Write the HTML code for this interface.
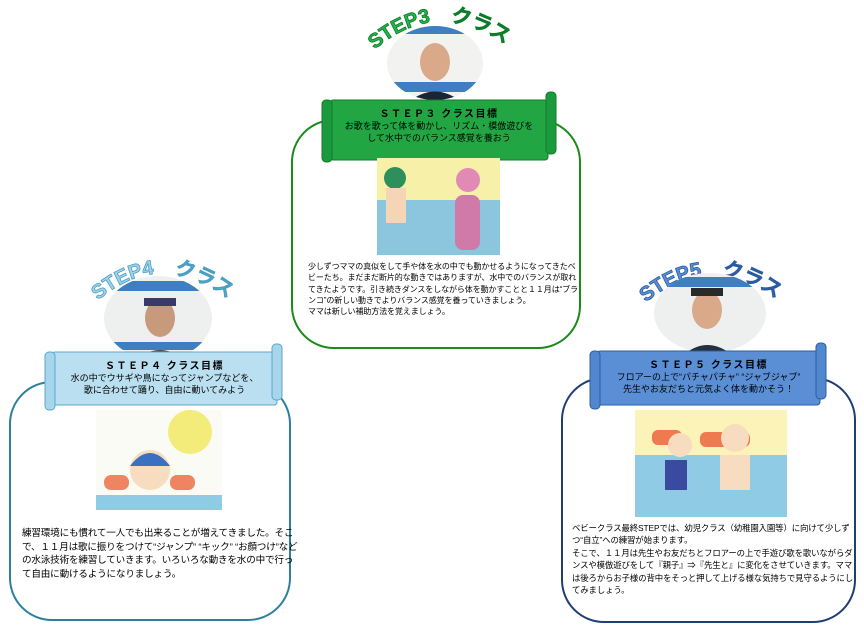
<!DOCTYPE html>
<html><head><meta charset="utf-8"><style>
html,body{margin:0;padding:0;background:#fff;width:864px;height:635px;overflow:hidden}
body{position:relative;font-family:"Liberation Sans","Noto Sans CJK JP",sans-serif}
.t{position:absolute;font-size:8.6px;line-height:12.2px;color:#000;letter-spacing:-0.1px}
.b{position:absolute;text-align:center;font-size:9px;line-height:11.5px;color:#000}
.b b{font-size:10px;letter-spacing:1.5px;display:block;line-height:13px}
svg{position:absolute;left:0;top:0}
</style></head><body>
<svg width="864" height="635" viewBox="0 0 864 635">
<defs>
<path id="a3" d="M372,52 Q437,-6 508,46"/>
<path id="a4" d="M96,302 Q160,246 230,300"/>
<path id="a5" d="M644,304 Q710,248 778,300"/>
<clipPath id="c3"><ellipse cx="435" cy="63" rx="48" ry="37"/></clipPath>
<clipPath id="c4"><ellipse cx="158" cy="318" rx="54" ry="42"/></clipPath>
<clipPath id="c5"><ellipse cx="710" cy="313" rx="56" ry="40"/></clipPath>
</defs>
<rect x="292" y="120" width="288" height="228" rx="42" fill="#fff" stroke="#1a8a1a" stroke-width="2"/>
<rect x="10" y="382" width="280" height="238" rx="42" fill="#fff" stroke="#2e7f9e" stroke-width="2"/>
<rect x="562" y="378" width="293" height="244" rx="42" fill="#fff" stroke="#1f3f73" stroke-width="2"/>
<text font-family="Liberation Sans" font-weight="bold" font-size="20" fill="#22b34a" stroke="#0c7a28" stroke-width="0.8"><textPath href="#a3" startOffset="50%" text-anchor="middle">STEP3　クラス</textPath></text>
<text font-family="Liberation Sans" font-weight="bold" font-size="20" fill="#9fd3ea" stroke="#4a9ec2" stroke-width="0.8"><textPath href="#a4" startOffset="50%" text-anchor="middle">STEP4　クラス</textPath></text>
<text font-family="Liberation Sans" font-weight="bold" font-size="20" fill="#5b8fd6" stroke="#2a5aa0" stroke-width="0.8"><textPath href="#a5" startOffset="50%" text-anchor="middle">STEP5　クラス</textPath></text>
<g clip-path="url(#c3)"><rect x="380" y="20" width="110" height="90" fill="#f2f2f0"/><rect x="380" y="24" width="110" height="10" fill="#3d7fc0"/><rect x="380" y="82" width="110" height="10" fill="#3d7fc0"/><ellipse cx="435" cy="62" rx="15" ry="19" fill="#d9a98a"/><path d="M405,105 Q435,78 465,105Z" fill="#1c2433"/></g>
<g clip-path="url(#c4)"><rect x="100" y="270" width="120" height="95" fill="#eef0f0"/><rect x="100" y="281" width="120" height="10" fill="#3d7fc0"/><rect x="100" y="342" width="120" height="8" fill="#3d7fc0"/><ellipse cx="160" cy="318" rx="15" ry="19" fill="#c89a7c"/><rect x="144" y="298" width="32" height="8" fill="#3a3a6a"/><path d="M130,365 Q160,335 190,365Z" fill="#3b4a55"/></g>
<g clip-path="url(#c5)"><rect x="650" y="270" width="120" height="90" fill="#eef0f0"/><rect x="650" y="277" width="120" height="10" fill="#3d7fc0"/><ellipse cx="707" cy="310" rx="15" ry="19" fill="#d9a98a"/><rect x="691" y="288" width="32" height="8" fill="#2a2a2a"/><path d="M678,360 Q707,330 738,360Z" fill="#243040"/></g>
<rect x="330" y="100" width="218" height="60" rx="3" fill="#22a644" stroke="#157a2e"/>
<rect x="322" y="100" width="10" height="62" rx="4" fill="#1a9a3c" stroke="#157a2e"/>
<rect x="546" y="92" width="10" height="62" rx="4" fill="#1a9a3c" stroke="#157a2e"/>
<rect x="52" y="352" width="225" height="53" rx="3" fill="#b9dff0" stroke="#5aa8cc"/>
<rect x="45" y="352" width="10" height="58" rx="4" fill="#a7d5ea" stroke="#5aa8cc"/>
<rect x="272" y="344" width="10" height="56" rx="4" fill="#a7d5ea" stroke="#5aa8cc"/>
<rect x="597" y="351" width="223" height="54" rx="3" fill="#5a8fd6" stroke="#2f5c9c"/>
<rect x="590" y="351" width="10" height="58" rx="4" fill="#5087cf" stroke="#2f5c9c"/>
<rect x="816" y="343" width="10" height="56" rx="4" fill="#5087cf" stroke="#2f5c9c"/>
<rect x="377" y="158" width="123" height="97" fill="#f6f0a8"/><rect x="377" y="200" width="123" height="55" fill="#8cc6de"/><circle cx="395" cy="178" r="11" fill="#2e8f5a"/><rect x="386" y="188" width="20" height="35" fill="#f4d5b5"/><circle cx="468" cy="180" r="12" fill="#e08ab5"/><rect x="455" y="195" width="25" height="55" rx="8" fill="#d07aaa"/>
<rect x="96" y="410" width="126" height="100" fill="#fbfbf6"/><circle cx="190" cy="432" r="22" fill="#f3ec7a"/><rect x="96" y="495" width="126" height="15" fill="#8fcbe5"/><circle cx="150" cy="470" r="20" fill="#f7dcc0"/><path d="M130,466 Q150,440 170,466Z" fill="#3b6fc0"/><rect x="104" y="475" width="25" height="15" rx="7" fill="#ef8560"/><rect x="170" y="475" width="25" height="15" rx="7" fill="#ef8560"/>
<rect x="635" y="410" width="152" height="107" fill="#fbf3b8"/><rect x="635" y="455" width="152" height="62" fill="#8fcbe5"/><rect x="652" y="430" width="30" height="15" rx="6" fill="#ef7a50"/><rect x="700" y="432" width="50" height="15" rx="6" fill="#ef7a50"/><circle cx="735" cy="438" r="14" fill="#f7dcc0"/><circle cx="680" cy="445" r="12" fill="#f7dcc0"/><rect x="720" y="455" width="30" height="35" fill="#f7dcc0"/><rect x="665" y="460" width="22" height="30" fill="#3a4aa0"/>
</svg>
<div class="b" style="left:330px;top:108px;width:218px"><b>ＳＴＥＰ３ クラス目標</b>お歌を歌って体を動かし、リズム・模倣遊びを<br>して水中でのバランス感覚を養おう</div>
<div class="b" style="left:52px;top:360px;width:225px"><b>ＳＴＥＰ４ クラス目標</b>水の中でウサギや鳥になってジャンプなどを、<br>歌に合わせて踊り、自由に動いてみよう</div>
<div class="b" style="left:597px;top:359px;width:223px"><b>ＳＴＥＰ５ クラス目標</b>フロアーの上で“パチャパチャ” “ジャブジャブ”<br>先生やお友だちと元気よく体を動かそう！</div>
<div class="t" style="left:308px;top:261px;width:270px;font-size:8px;line-height:11.3px">少しずつママの真似をして手や体を水の中でも動かせるようになってきたベビーたち。まだまだ断片的な動きではありますが、水中でのバランスが取れてきたようです。引き続きダンスをしながら体を動かすことと１１月は“ブランコ”の新しい動きでよりバランス感覚を養っていきましょう。<br>ママは新しい補助方法を覚えましょう。</div>
<div class="t" style="left:22px;top:527px;width:278px;font-size:9.6px;line-height:13.5px;letter-spacing:-0.2px">練習環境にも慣れて一人でも出来ることが増えてきました。そこで、１１月は歌に振りをつけて“ジャンプ” “キック” “お顔つけ”などの水泳技術を練習していきます。いろいろな動きを水の中で行って自由に動けるようになりましょう。</div>
<div class="t" style="left:572px;top:522px;width:284px;font-size:8.4px;line-height:12.4px">ベビークラス最終STEPでは、幼児クラス（幼稚園入園等）に向けて少しずつ“自立”への練習が始まります。<br>そこで、１１月は先生やお友だちとフロアーの上で手遊び歌を歌いながらダンスや模倣遊びをして『親子』⇒『先生と』に変化をさせていきます。ママは後ろからお子様の背中をそっと押して上げる様な気持ちで見守るようにしてみましょう。</div>
</body></html>
